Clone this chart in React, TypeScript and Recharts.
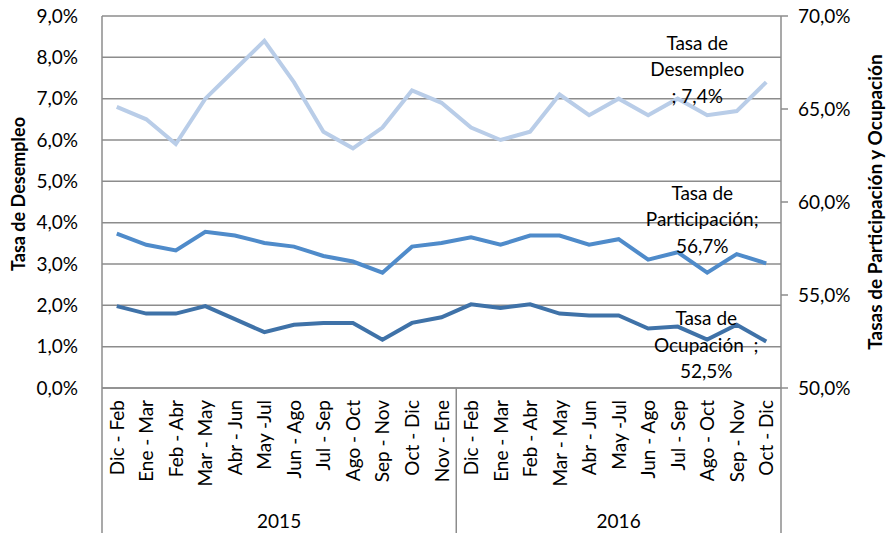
import React from "react";
import { LineChart, Line, XAxis, YAxis, CartesianGrid, LabelList } from "recharts";

const categories = [
  "Dic - Feb", "Ene - Mar", "Feb - Abr", "Mar - May", "Abr - Jun", "May -Jul",
  "Jun - Ago", "Jul - Sep", "Ago - Oct", "Sep - Nov", "Oct - Dic", "Nov - Ene",
  "Dic - Feb", "Ene - Mar", "Feb - Abr", "Mar - May", "Abr - Jun", "May -Jul",
  "Jun - Ago", "Jul - Sep", "Ago - Oct", "Sep - Nov", "Oct - Dic",
];
const categoryYears = [
  "2015", "2015", "2015", "2015", "2015", "2015", "2015", "2015", "2015", "2015", "2015", "2015",
  "2016", "2016", "2016", "2016", "2016", "2016", "2016", "2016", "2016", "2016", "2016",
];
const desempleo = [6.8, 6.5, 5.9, 7.0, 7.7, 8.4, 7.4, 6.2, 5.8, 6.3, 7.2, 6.9, 6.3, 6.0, 6.2, 7.1, 6.6, 7.0, 6.6, 7.0, 6.6, 6.7, 7.4];
const participacion = [58.3, 57.7, 57.4, 58.4, 58.2, 57.8, 57.6, 57.1, 56.8, 56.2, 57.6, 57.8, 58.1, 57.7, 58.2, 58.2, 57.7, 58.0, 56.9, 57.3, 56.2, 57.2, 56.7];
const ocupacion = [54.4, 54.0, 54.0, 54.4, 53.7, 53.0, 53.4, 53.5, 53.5, 52.6, 53.5, 53.8, 54.5, 54.3, 54.5, 54.0, 53.9, 53.9, 53.2, 53.3, 52.6, 53.4, 52.5];
const leftTicks = [0, 1, 2, 3, 4, 5, 6, 7, 8, 9];
const rightTicks = [50, 55, 60, 65, 70];

const data = categories.map((c, i) => ({
  idx: i,
  cat: c,
  year: categoryYears[i],
  des: desempleo[i],
  par: participacion[i],
  ocu: ocupacion[i],
}));

const FONT = "Lato, Carlito, 'Open Sans', sans-serif";
const FS = 19;
const GRID = "#8c8c8c";

const fmt = (v: number) => v.toFixed(1).replace(".", ",") + "%";

const CatTick = (props: any) => {
  const { x, y, payload, index } = props;
  const off = payload?.offset ?? 0;
  const i = typeof index === "number" ? index : payload.index;
  const yr = categoryYears[i];
  const first = i === 0 || categoryYears[i - 1] !== yr;
  const last = i === categories.length - 1;
  const groupIdx = categoryYears.map((v, k) => (v === yr ? k : -1)).filter((k) => k >= 0);
  const g0 = groupIdx[0];
  const g1 = groupIdx[groupIdx.length - 1];
  const midTwice = g0 + g1;
  const showYear = i === Math.floor(midTwice / 2);
  const yearX = midTwice % 2 === 0 ? x : x + off;
  return (
    <g>
      <text
        x={x + 7}
        y={y + 12}
        transform={`rotate(-90, ${x + 7}, ${y + 12})`}
        textAnchor="end"
        fontFamily={FONT}
        fontSize={FS}
        fill="#000"
      >
        {categories[i]}
      </text>
      {first && <line x1={x - off} x2={x - off} y1={y} y2={y + 145} stroke={GRID} strokeWidth={1.5} />}
      {last && <line x1={x + off} x2={x + off} y1={y} y2={y + 145} stroke={GRID} strokeWidth={1.5} />}
      {showYear && (
        <text x={yearX} y={y + 140} textAnchor="middle" fontFamily={FONT} fontSize={FS} fill="#000">
          {yr}
        </text>
      )}
    </g>
  );
};

const makeEndLabel = (lines: (v: number) => string[], dx: number, dy: number) => (props: any) => {
  const { x, y, index, value } = props;
  if (index !== categories.length - 1) return null;
  const ls = lines(value);
  const lh = 26.5;
  const startY = y + dy - ((ls.length - 1) * lh) / 2 + 7;
  return (
    <text textAnchor="middle" fontFamily={FONT} fontSize={FS} fill="#000">
      {ls.map((l, k) => (
        <tspan key={k} x={x + dx} y={startY + k * lh}>
          {l}
        </tspan>
      ))}
    </text>
  );
};

export default function App() {
  return (
    <div style={{ position: "absolute", left: 0, top: 0, width: 888, height: 533, background: "#fff" }}>
      <LineChart width={888} height={533} data={data} margin={{ top: 16, right: 0, bottom: 0, left: 0 }}>
        <CartesianGrid yAxisId="left" vertical={false} stroke={GRID} strokeWidth={1.5} />
        <XAxis
          dataKey="idx"
          type="category"
          scale="band"
          height={145}
          interval={0}
          tick={<CatTick />}
          tickLine={false}
          tickSize={0}
          tickMargin={0}
          axisLine={{ stroke: GRID, strokeWidth: 1.5 }}
        />
        <YAxis
          yAxisId="left"
          width={102}
          domain={[0, 9]}
          ticks={leftTicks}
          tickFormatter={fmt}
          interval={0}
          axisLine={{ stroke: GRID, strokeWidth: 1.5 }}
          tickLine={false}
          tickMargin={18}
          tick={{ fontFamily: FONT, fontSize: FS, fill: "#000" }}
          label={{
            value: "Tasa de Desempleo",
            angle: -90,
            position: "insideLeft",
            offset: 19,
            dy: -8,
            style: { fontFamily: FONT, fontSize: 18, fontWeight: "bold", fill: "#000", textAnchor: "middle" },
          }}
        />
        <YAxis
          yAxisId="right"
          orientation="right"
          width={107}
          domain={[50, 70]}
          ticks={rightTicks}
          tickFormatter={fmt}
          interval={0}
          axisLine={{ stroke: GRID, strokeWidth: 1.5 }}
          tickLine={{ stroke: GRID, strokeWidth: 1.5 }}
          tickSize={7}
          tickMargin={10}
          tick={{ fontFamily: FONT, fontSize: FS, fill: "#000", textAnchor: "start" }}
          label={{
            value: "Tasas de Participación y Ocupación",
            angle: -90,
            position: "insideRight",
            offset: 13,
            style: { fontFamily: FONT, fontSize: 19, fontWeight: "bold", fill: "#000", textAnchor: "middle" },
          }}
        />
        <Line
          yAxisId="left"
          dataKey="des"
          stroke="#B9CDE8"
          strokeWidth={4}
          dot={false}
          isAnimationActive={false}
        >
          <LabelList dataKey="des" content={makeEndLabel((v) => ["Tasa de", "Desempleo", "; " + fmt(v)], -69, -13)} />
        </Line>
        <Line
          yAxisId="right"
          dataKey="par"
          stroke="#4F8BCA"
          strokeWidth={4}
          dot={false}
          isAnimationActive={false}
        >
          <LabelList dataKey="par" content={makeEndLabel((v) => ["Tasa de", "Participación;", fmt(v)], -64, -44)} />
        </Line>
        <Line
          yAxisId="right"
          dataKey="ocu"
          stroke="#3F72A8"
          strokeWidth={4}
          dot={false}
          isAnimationActive={false}
        >
          <LabelList dataKey="ocu" content={makeEndLabel((v) => ["Tasa de", "Ocupación\u00a0\u00a0;", fmt(v)], -60, 3)} />
        </Line>
      </LineChart>
    </div>
  );
}
